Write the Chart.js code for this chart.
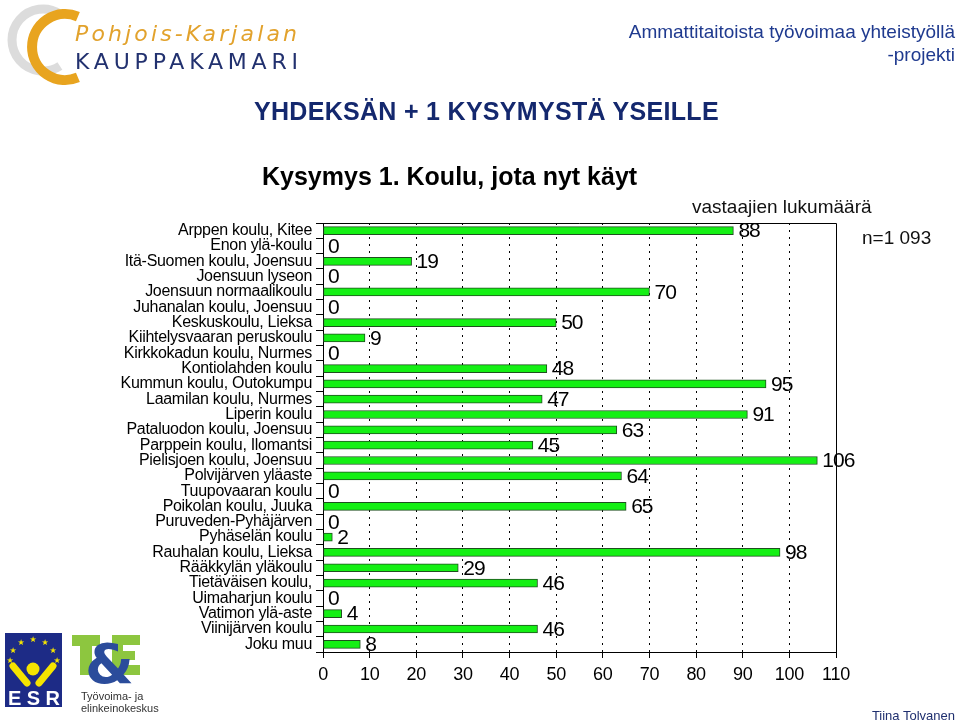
<!DOCTYPE html>
<html>
<head>
<meta charset="utf-8">
<script src="https://cdn.jsdelivr.net/npm/chart.js@4.4.0/dist/chart.umd.min.js"></script>
<style>
  html, body { margin: 0; padding: 0; background: #fff; }
  body { width: 960px; height: 724px; position: relative; overflow: hidden;
         font-family: "Liberation Sans", Arial, sans-serif; }
  #chart { position: absolute; left: 0; top: 0; }
  .t { position: absolute; white-space: nowrap; line-height: 1; }
  svg { position: absolute; left: 0; top: 0; }
</style>
</head>
<body>
<canvas id="chart" width="960" height="724"></canvas>

<svg width="320" height="100">
  <path d="M 59.9 14 A 31 31 0 1 0 59.9 66" stroke="#dcdcdc" stroke-width="9" fill="none"/>
  <path d="M 77.9 16.6 A 33 33 0 1 0 77.9 77.4" stroke="#e8a41f" stroke-width="10" fill="none"/>
  <text x="75" y="41" font-family="DejaVu Sans" font-style="italic" font-size="22"
        textLength="222" lengthAdjust="spacing" fill="#e2a22c">Pohjois-Karjalan</text>
  <text x="75" y="69" font-family="DejaVu Sans" font-size="22"
        textLength="223" lengthAdjust="spacing" fill="#22316f">KAUPPAKAMARI</text>
</svg>

<svg width="160" height="724">
  <rect x="5" y="633" width="57" height="74" fill="#1d2b86"/>
  <g fill="#f5e400" font-size="8" font-family="DejaVu Sans" text-anchor="middle">
    <text x="10" y="663">★</text><text x="13" y="653">★</text><text x="21" y="645">★</text>
    <text x="33" y="642">★</text><text x="45" y="645">★</text><text x="53" y="653">★</text>
    <text x="57" y="663">★</text>
  </g>
  <circle cx="33" cy="669" r="6.5" fill="#f5e400"/>
  <line x1="13" y1="666" x2="27" y2="683" stroke="#f5e400" stroke-width="7" stroke-linecap="round"/>
  <line x1="53" y1="666" x2="39" y2="683" stroke="#f5e400" stroke-width="7" stroke-linecap="round"/>
  <text x="8" y="705" font-family="Liberation Sans" font-weight="bold" font-size="20"
        textLength="52" lengthAdjust="spacing" fill="#fff">ESR</text>
  <g fill="#8dc63f">
    <rect x="72" y="635" width="28" height="11"/>
    <rect x="80" y="635" width="12" height="40"/>
    <rect x="112" y="635" width="28" height="10"/>
    <rect x="112" y="635" width="11" height="40"/>
    <rect x="112" y="651" width="23" height="9"/>
    <rect x="112" y="665" width="28" height="10"/>
  </g>
  <text x="85" y="683" font-family="DejaVu Sans" font-weight="bold" font-size="56" fill="#2b4c9b">&amp;</text>
  <text x="81" y="700" font-family="Liberation Sans" font-size="11" fill="#333">Työvoima- ja</text>
  <text x="81" y="712" font-family="Liberation Sans" font-size="11" fill="#333">elinkeinokeskus</text>
</svg>

<div class="t" style="right:5px;top:22px;font-size:19px;color:#1f3a8f;">Ammattitaitoista työvoimaa yhteistyöllä</div>
<div class="t" style="right:5px;top:45px;font-size:19px;color:#1f3a8f;">-projekti</div>
<div class="t" style="left:254px;top:99px;font-size:25px;font-weight:bold;color:#14286e;letter-spacing:0.3px;">YHDEKSÄN + 1 KYSYMYSTÄ YSEILLE</div>
<div class="t" style="left:262px;top:164px;font-size:25px;font-weight:bold;color:#000;">Kysymys 1. Koulu, jota nyt käyt</div>
<div class="t" style="left:692px;top:197px;font-size:19px;color:#111;">vastaajien lukumäärä</div>
<div class="t" style="left:862px;top:228px;font-size:19px;color:#111;">n=1 093</div>
<div class="t" style="right:5px;top:709px;font-size:13px;color:#1f2f6f;">Tiina Tolvanen</div>

<script>
// kysymys 1: koulu, vastaajien lukumäärä
const schools = [
  'Arppen koulu, Kitee', 'Enon ylä-koulu', 'Itä-Suomen koulu, Joensuu', 'Joensuun lyseon',
  'Joensuun normaalikoulu', 'Juhanalan koulu, Joensuu', 'Keskuskoulu, Lieksa',
  'Kiihtelysvaaran peruskoulu', 'Kirkkokadun koulu, Nurmes', 'Kontiolahden koulu',
  'Kummun koulu, Outokumpu', 'Laamilan koulu, Nurmes', 'Liperin koulu',
  'Pataluodon koulu, Joensuu', 'Parppein koulu, Ilomantsi', 'Pielisjoen koulu, Joensuu',
  'Polvijärven yläaste', 'Tuupovaaran koulu', 'Poikolan koulu, Juuka', 'Puruveden-Pyhäjärven',
  'Pyhäselän koulu', 'Rauhalan koulu, Lieksa', 'Rääkkylän yläkoulu', 'Tietäväisen koulu,',
  'Uimaharjun koulu', 'Vatimon ylä-aste', 'Viinijärven koulu', 'Joku muu'
];
const counts = [88, 0, 19, 0, 70, 0, 50, 9, 0, 48, 95, 47, 91, 63, 45, 106,
                64, 0, 65, 0, 2, 98, 29, 46, 0, 4, 46, 8];
const axisMax = 110;
const axisStep = 10;

const FONT = '"Liberation Sans", Arial, sans-serif';

const tightText = {
  id: 'tightText',
  beforeDraw(chart) {
    chart.ctx.letterSpacing = '-0.3px';
  }
};

const valueLabels = {
  id: 'valueLabels',
  afterDatasetsDraw(chart) {
    const ctx = chart.ctx;
    const meta = chart.getDatasetMeta(0);
    ctx.save();
    ctx.font = '21px ' + FONT;
    ctx.letterSpacing = '-1px';
    ctx.fillStyle = '#000';
    ctx.textAlign = 'left';
    ctx.textBaseline = 'middle';
    meta.data.forEach((bar, i) => {
      ctx.fillText(String(counts[i]), bar.x + 5, bar.y + 1);
    });
    ctx.restore();
  }
};

const frame = {
  id: 'frame',
  afterDraw(chart) {
    const {ctx, chartArea: a} = chart;
    ctx.save();
    ctx.strokeStyle = '#000';
    ctx.lineWidth = 1;
    ctx.beginPath();
    ctx.moveTo(Math.round(a.left), Math.round(a.top) + 0.5);
    ctx.lineTo(Math.round(a.right) + 0.5, Math.round(a.top) + 0.5);
    ctx.lineTo(Math.round(a.right) + 0.5, Math.round(a.bottom));
    ctx.stroke();
    ctx.restore();
  }
};

new Chart(document.getElementById('chart'), {
  type: 'bar',
  data: {
    labels: schools,
    datasets: [{
      data: counts,
      backgroundColor: '#14f014',
      borderColor: '#1f4f1f',
      borderWidth: 1,
      borderSkipped: false,
      barThickness: 8
    }]
  },
  options: {
    indexAxis: 'y',
    responsive: false,
    animation: false,
    layout: { padding: { top: 223, right: 124, bottom: 32, left: 0 } },
    plugins: { legend: { display: false }, tooltip: { enabled: false } },
    scales: {
      x: {
        min: 0,
        max: axisMax,
        ticks: { stepSize: axisStep, color: '#000', padding: 6, font: { family: FONT, size: 18 } },
        grid: {
          color: c => (c.tick && (c.tick.value === 0 || c.tick.value === axisMax)) ? 'rgba(0,0,0,0)' : '#000',
          lineWidth: 1,
          tickLength: 6,
          tickColor: '#000',
          tickBorderDash: []
        },
        border: { color: '#000', width: 1, dash: [2, 5] },
        afterFit(scale) { scale.height = 40; }
      },
      y: {
        ticks: { color: '#000', padding: 4, autoSkip: false, font: { family: FONT, size: 16 } },
        grid: { drawOnChartArea: false, tickLength: 7, tickColor: '#000', offset: true },
        border: { color: '#000', width: 1 },
        afterFit(scale) { scale.width = 323; }
      }
    }
  },
  plugins: [tightText, valueLabels, frame]
});
</script>
</body>
</html>
